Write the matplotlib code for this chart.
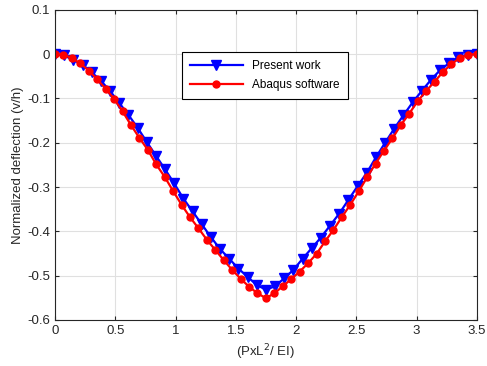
import numpy as np
import matplotlib
matplotlib.use("Agg")
import matplotlib.pyplot as plt

plt.rcParams['font.family'] = ['Liberation Sans', 'DejaVu Sans']

# Present work (blue triangles), evenly spaced along the beam
x_present = np.linspace(0, 3.5, 47)
v_present = [0, -0.003, -0.013, -0.024, -0.041, -0.060, -0.083, -0.110, -0.137, -0.166,
             -0.198, -0.229, -0.260, -0.292, -0.326, -0.355, -0.384, -0.413, -0.440, -0.462,
             -0.484, -0.503, -0.521, -0.532, -0.524, -0.506, -0.487, -0.462, -0.438, -0.414,
             -0.387, -0.360, -0.329, -0.298, -0.268, -0.233, -0.200, -0.168, -0.138, -0.109,
             -0.083, -0.058, -0.036, -0.020, -0.007, -0.001, 0]

# Abaqus results (red circles)
x_abaqus = np.linspace(0, 3.5, 51)
v_abaqus = [0, -0.001, -0.009, -0.021, -0.037, -0.057, -0.078, -0.101, -0.129, -0.160,
            -0.189, -0.216, -0.249, -0.277, -0.309, -0.340, -0.368, -0.393, -0.419, -0.442,
            -0.465, -0.487, -0.507, -0.525, -0.540, -0.551, -0.540, -0.524, -0.508, -0.491,
            -0.472, -0.451, -0.423, -0.397, -0.368, -0.340, -0.310, -0.278, -0.247, -0.218,
            -0.190, -0.160, -0.134, -0.106, -0.083, -0.062, -0.040, -0.022, -0.009, -0.001, 0]

xticks = [0, 0.5, 1, 1.5, 2, 2.5, 3, 3.5]
xticklabels = ['0', '0.5', '1', '1.5', '2', '2.5', '3', '3.5']
yticks = [0.1, 0, -0.1, -0.2, -0.3, -0.4, -0.5, -0.6]
yticklabels = ['0.1', '0', '-0.1', '-0.2', '-0.3', '-0.4', '-0.5', '-0.6']

fig = plt.figure(figsize=(4.87, 3.66), dpi=100)
ax = fig.add_axes([0.113, 0.126, 0.866, 0.847])

ax.plot(x_present, v_present, color='#0000ff', lw=1.6, marker='v', ms=6.5,
        label='Present work')
ax.plot(x_abaqus, v_abaqus, color='#ff0000', lw=1.6, marker='o', ms=5,
        label='Abaqus software')

ax.set_xlim(0, 3.5)
ax.set_ylim(-0.6, 0.1)
ax.set_xticks(xticks)
ax.set_xticklabels(xticklabels)
ax.set_yticks(yticks)
ax.set_yticklabels(yticklabels)
ax.grid(True, color='#e0e0e0', lw=0.8)
ax.set_axisbelow(True)
ax.tick_params(direction='in', top=True, right=True, labelsize=9.5,
               colors='#262626', length=3)
for s in ax.spines.values():
    s.set_color('#262626')
    s.set_linewidth(0.8)

ax.set_xlabel('(PxL$^2$/ EI)', fontsize=9.5, color='#262626', labelpad=4)
ax.set_ylabel('Normalized deflection (v/h)', fontsize=9.5, color='#262626', labelpad=2)

leg = ax.legend(loc='upper left', bbox_to_anchor=(0.3, 0.865), fontsize=8.5,
                fancybox=False, framealpha=1, edgecolor='black',
                handlelength=4.5, borderpad=0.7, labelspacing=0.6,
                handletextpad=0.8, borderaxespad=0)
leg.get_frame().set_linewidth(0.8)

plt.savefig('out.png', dpi=100)
